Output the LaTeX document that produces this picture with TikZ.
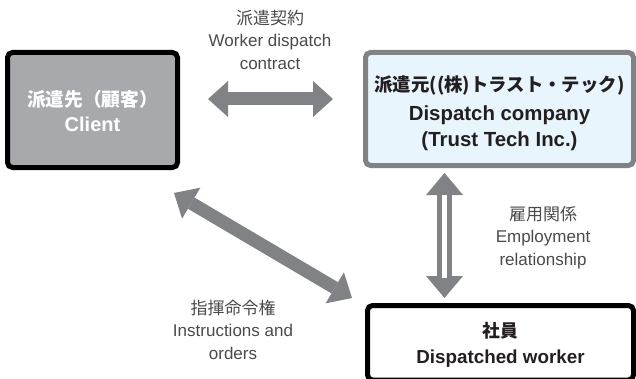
\documentclass[tikz,border=0pt]{standalone}
\usepackage{fontspec}
\setmainfont{Liberation Sans}
\newfontfamily\jp{Noto Sans CJK JP}
\usetikzlibrary{arrows.meta}
\definecolor{arrowgray}{HTML}{808285}
\definecolor{clientfill}{HTML}{A7A9AC}
\definecolor{bluefill}{HTML}{E8F5FC}
\definecolor{labelgray}{HTML}{4A4A4C}
\definecolor{textdark}{HTML}{231F20}
\begin{document}
\begin{tikzpicture}[x=1pt,y=1pt,
  box/.style={draw, line width=5pt, rounded corners=5pt, align=center, inner sep=0pt, text depth=0pt},
  lbl/.style={align=center, text=labelgray, inner sep=0pt, font=\fontsize{17}{22.5}\selectfont},
  bigarrow/.style={draw=arrowgray, line width=13pt, {Triangle[width=36pt,length=20pt,line width=0pt]}-{Triangle[width=36pt,length=20pt,line width=0pt]}},
  varrow/.style={draw=arrowgray, line width=14.5pt, {Triangle[width=37pt,length=22pt,line width=0pt]}-{Triangle[width=37pt,length=22pt,line width=0pt]}}
]
\useasboundingbox (0,0) rectangle (636,378);
\clip (0,0) rectangle (636,378);

% boxes
\node[box, draw=black, fill=clientfill, text=white, minimum width=170pt, minimum height=115pt,
  text height=43pt, font=\fontsize{20}{24.5}\selectfont\bfseries] (client) at (92.5,268)
  {{\jp\fontsize{18.7}{24.5}\selectfont 派遣先（顧客）}\\Client};
\node[box, draw=arrowgray, fill=bluefill, text=textdark, minimum width=268pt, minimum height=113pt,
  text height=74pt, font=\fontsize{20.4}{25.7}\selectfont\bfseries] (disp) at (499.5,269)
  {{\jp\fontsize{18.4}{25.7}\selectfont 派遣元((株)トラスト・テック)}\\[3.3pt]Dispatch company\\(Trust Tech Inc.)};
\node[box, draw=black, fill=white, text=textdark, minimum width=266pt, minimum height=74.5pt,
  text height=41.5pt, font=\fontsize{18.8}{26.5}\selectfont\bfseries] (worker) at (500.5,35.25)
  {{\jp\fontsize{17.8}{26.5}\selectfont 社員}\\Dispatched worker};

% labels
\node[lbl] (contract) at (270,338.5) {{\jp 派遣契約}\\Worker dispatch\\contract};
\node[lbl] (employ) at (543,140.5) {{\jp 雇用関係}\\Employment\\relationship};
\node[lbl] (instr) at (233,48.5) {{\jp 指揮命令権}\\Instructions and\\orders};

% arrow ends
\coordinate (hL) at (208,279);
\coordinate (hR) at (333,279);
\coordinate (vT) at (444.5,205);
\coordinate (vB) at (444.5,80);
\coordinate (vg1) at (444.5,183.5);
\coordinate (vg2) at (444.5,100.5);
\coordinate (dA) at (174,185);
\coordinate (dB) at (352,80);

\draw[bigarrow] (hL) -- (hR);
\draw[bigarrow] (dA) -- (dB);
\draw[varrow] (vT) -- (vB);
\draw[white, line width=5pt] (vg1) -- (vg2);
\end{tikzpicture}
\end{document}
